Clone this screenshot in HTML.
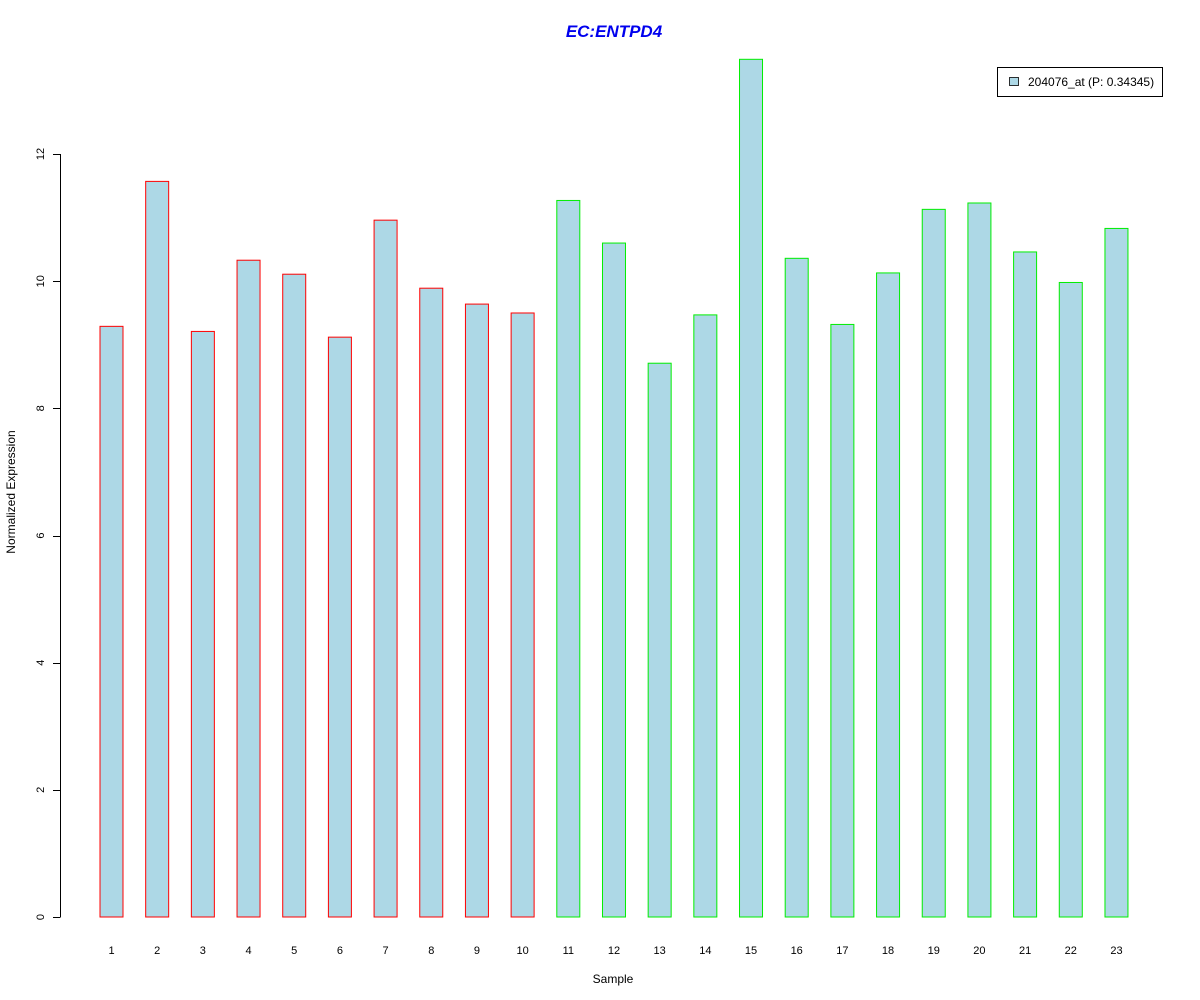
<!DOCTYPE html>
<html><head><meta charset="utf-8"><style>
body{margin:0;background:#fff;}
svg{display:block;font-family:"Liberation Sans",Arial,sans-serif;}
</style></head><body>
<svg id="chart" width="1200" height="1000">
<text x="614" y="37" text-anchor="middle" font-size="17" font-weight="bold" font-style="italic" fill="#0000ee">EC:ENTPD4</text>
<g id="bars"></g>
<g id="yaxis"></g>
<g id="xlabels"></g>
<text x="613" y="983" text-anchor="middle" font-size="12">Sample</text>
<text transform="translate(15,492) rotate(-90)" text-anchor="middle" font-size="12">Normalized Expression</text>
<g>
<rect x="997.5" y="67.5" width="165" height="29" fill="#fff" stroke="#000"/>
<rect x="1009.5" y="77.5" width="9" height="8" fill="#add8e6" stroke="#000" stroke-width="0.8"/>
<text x="1028" y="86" font-size="12">204076_at (P: 0.34345)</text>
</g>
</svg>
<script>
const categories=["1","2","3","4","5","6","7","8","9","10","11","12","13","14","15","16","17","18","19","20","21","22","23"];
const values=[9.29,11.57,9.21,10.33,10.11,9.12,10.96,9.89,9.64,9.50,11.27,10.60,8.71,9.47,13.49,10.36,9.32,10.13,11.13,11.23,10.46,9.98,10.83];
const groups=["r","r","r","r","r","r","r","r","r","r","g","g","g","g","g","g","g","g","g","g","g","g","g"];
const yTicks=[0,2,4,6,8,10,12];
const NS="http://www.w3.org/2000/svg";
function y(v){return 917-v*63.58;}
function xc(i){return 111.5+i*45.68;}
const bars=document.getElementById('bars');
values.forEach((v,i)=>{
 const r=document.createElementNS(NS,'rect');
 
 
 r.setAttribute('x',xc(i)-11.5);r.setAttribute('width',23);
 r.setAttribute('y',y(v));r.setAttribute('height',917-y(v));
 r.setAttribute('fill','#add8e6');
 r.setAttribute('stroke',groups[i]=="r"?"#ff0000":"#00ee00");
 bars.appendChild(r);
 const t=document.createElementNS(NS,'text');
 
 
 t.setAttribute('x',xc(i));t.setAttribute('y',954);
 t.setAttribute('text-anchor','middle');t.setAttribute('font-size','11');
 t.textContent=categories[i];
 document.getElementById('xlabels').appendChild(t);
});
const ya=document.getElementById('yaxis');
const l=document.createElementNS(NS,'line');


l.setAttribute('x1',60.5);l.setAttribute('x2',60.5);l.setAttribute('y1',y(0));l.setAttribute('y2',y(12));l.setAttribute('stroke','#000');
ya.appendChild(l);
yTicks.forEach(v=>{
 const tk=document.createElementNS(NS,'line');
 
 
 tk.setAttribute('x1',53);tk.setAttribute('x2',60.5);tk.setAttribute('y1',Math.round(y(v))+0.5);tk.setAttribute('y2',Math.round(y(v))+0.5);tk.setAttribute('stroke','#000');
 ya.appendChild(tk);
 const t=document.createElementNS(NS,'text');
 
 
 t.setAttribute('transform','translate(44,'+y(v)+') rotate(-90)');
 t.setAttribute('text-anchor','middle');t.setAttribute('font-size','11');
 t.textContent=v;
 ya.appendChild(t);
});
</script>
</body></html>
